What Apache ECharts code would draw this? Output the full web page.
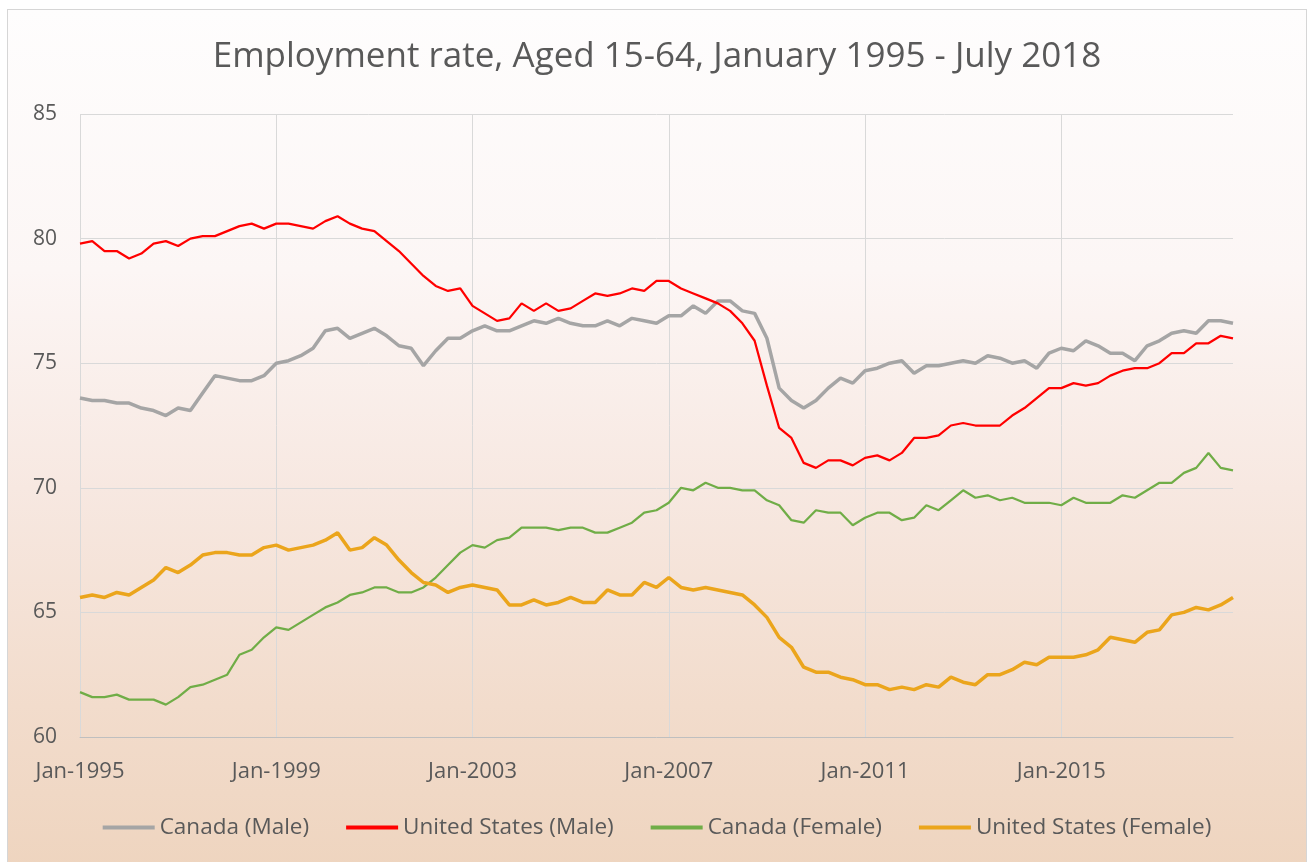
<!DOCTYPE html>
<html lang="en">
<head>
<meta charset="UTF-8">
<title>Employment rate</title>
<script src="https://cdn.jsdelivr.net/npm/echarts@6/dist/echarts.min.js"></script>
<style>
html,body{margin:0;padding:0;background:#fff;overflow:hidden;width:1310px;height:862px;}
#chartBox{position:absolute;left:7px;top:9px;width:1298px;height:870px;border:1px solid #d6d6d6;
  background:linear-gradient(to bottom,#fefdfd 0%,#fcf6f5 30%,#f7e8e1 55%,#f2dccc 80%,#eed4be 100%);}
</style>
</head>
<body>
<div id="chartBox"></div>
<script>
// 月份类目 Jan-1995 .. Jul-2018
const MONTH_NAMES = ['Jan','Feb','Mar','Apr','May','Jun','Jul','Aug','Sep','Oct','Nov','Dec'];
const months = [];
for (let y = 1995; y <= 2018; y++) {
    for (let m = 0; m < 12; m++) {
        if (y === 2018 && m > 6) break;
        months.push(MONTH_NAMES[m] + '-' + y);
    }
}

// 季度读数（每3个月一个点，从 Jan-1995 开始）
const canadaMale = [
    73.6, 73.5, 73.5, 73.4, 73.4, 73.2, 73.1, 72.9, 73.2, 73.1, 73.8, 74.5, 74.4, 74.3, 74.3, 74.5, 75.0, 75.1, 75.3, 75.6, 76.3, 76.4, 76.0, 76.2,
    76.4, 76.1, 75.7, 75.6, 74.9, 75.5, 76.0, 76.0, 76.3, 76.5, 76.3, 76.3, 76.5, 76.7, 76.6, 76.8, 76.6, 76.5, 76.5, 76.7, 76.5, 76.8, 76.7, 76.6,
    76.9, 76.9, 77.3, 77.0, 77.5, 77.5, 77.1, 77.0, 76.0, 74.0, 73.5, 73.2, 73.5, 74.0, 74.4, 74.2, 74.7, 74.8, 75.0, 75.1, 74.6, 74.9, 74.9,
    75.0, 75.1, 75.0, 75.3, 75.2, 75.0, 75.1, 74.8, 75.4, 75.6, 75.5, 75.9, 75.7, 75.4, 75.4, 75.1, 75.7, 75.9, 76.2, 76.3, 76.2, 76.7, 76.7, 76.6
];
const usMale = [
    79.8, 79.9, 79.5, 79.5, 79.2, 79.4, 79.8, 79.9, 79.7, 80.0, 80.1, 80.1, 80.3, 80.5, 80.6, 80.4, 80.6, 80.6, 80.5, 80.4, 80.7, 80.9, 80.6, 80.4,
    80.3, 79.9, 79.5, 79.0, 78.5, 78.1, 77.9, 78.0, 77.3, 77.0, 76.7, 76.8, 77.4, 77.1, 77.4, 77.1, 77.2, 77.5, 77.8, 77.7, 77.8, 78.0, 77.9, 78.3,
    78.3, 78.0, 77.8, 77.6, 77.4, 77.1, 76.6, 75.9, 74.1, 72.4, 72.0, 71.0, 70.8, 71.1, 71.1, 70.9, 71.2, 71.3, 71.1, 71.4, 72.0, 72.0, 72.1,
    72.5, 72.6, 72.5, 72.5, 72.5, 72.9, 73.2, 73.6, 74.0, 74.0, 74.2, 74.1, 74.2, 74.5, 74.7, 74.8, 74.8, 75.0, 75.4, 75.4, 75.8, 75.8, 76.1, 76.0
];
const canadaFemale = [
    61.8, 61.6, 61.6, 61.7, 61.5, 61.5, 61.5, 61.3, 61.6, 62.0, 62.1, 62.3, 62.5, 63.3, 63.5, 64.0, 64.4, 64.3, 64.6, 64.9, 65.2, 65.4, 65.7, 65.8,
    66.0, 66.0, 65.8, 65.8, 66.0, 66.4, 66.9, 67.4, 67.7, 67.6, 67.9, 68.0, 68.4, 68.4, 68.4, 68.3, 68.4, 68.4, 68.2, 68.2, 68.4, 68.6, 69.0, 69.1,
    69.4, 70.0, 69.9, 70.2, 70.0, 70.0, 69.9, 69.9, 69.5, 69.3, 68.7, 68.6, 69.1, 69.0, 69.0, 68.5, 68.8, 69.0, 69.0, 68.7, 68.8, 69.3, 69.1,
    69.5, 69.9, 69.6, 69.7, 69.5, 69.6, 69.4, 69.4, 69.4, 69.3, 69.6, 69.4, 69.4, 69.4, 69.7, 69.6, 69.9, 70.2, 70.2, 70.6, 70.8, 71.4, 70.8, 70.7
];
const usFemale = [
    65.6, 65.7, 65.6, 65.8, 65.7, 66.0, 66.3, 66.8, 66.6, 66.9, 67.3, 67.4, 67.4, 67.3, 67.3, 67.6, 67.7, 67.5, 67.6, 67.7, 67.9, 68.2, 67.5, 67.6,
    68.0, 67.7, 67.1, 66.6, 66.2, 66.1, 65.8, 66.0, 66.1, 66.0, 65.9, 65.3, 65.3, 65.5, 65.3, 65.4, 65.6, 65.4, 65.4, 65.9, 65.7, 65.7, 66.2, 66.0,
    66.4, 66.0, 65.9, 66.0, 65.9, 65.8, 65.7, 65.3, 64.8, 64.0, 63.6, 62.8, 62.6, 62.6, 62.4, 62.3, 62.1, 62.1, 61.9, 62.0, 61.9, 62.1, 62.0,
    62.4, 62.2, 62.1, 62.5, 62.5, 62.7, 63.0, 62.9, 63.2, 63.2, 63.2, 63.3, 63.5, 64.0, 63.9, 63.8, 64.2, 64.3, 64.9, 65.0, 65.2, 65.1, 65.3, 65.6
];

const seriesNames = ['Canada (Male)', 'United States (Male)', 'Canada (Female)', 'United States (Female)'];
const COLORS = ['#a5a5a5', '#ff0000', '#70ad47', '#eba51c'];
const WIDTHS = [3.5, 2.25, 2.25, 3.5];
const FONT = 'Open Sans';

function toPairs(values) {
    return values.map((v, i) => [months[i * 3], v]);
}

// 每4年显示一次标签和竖线
function showEvery4Years(index) {
    return index % 48 === 0;
}

let chartObj = echarts.init(document.getElementById('chartBox'));
let allData = [canadaMale, usMale, canadaFemale, usFemale];

let option = {
    animation: false,
    color: COLORS,
    title: {
        text: 'Employment rate, Aged 15-64, January 1995 - July 2018',
        left: 'center',
        top: 25,
        textStyle: {color: '#595959', fontSize: 35, fontWeight: 'normal', fontFamily: FONT}
    },
    grid: {left: 72, top: 104, width: 1153, height: 623, containLabel: false, outerBoundsMode: 'none'},
    xAxis: {
        type: 'category',
        data: months,
        boundaryGap: false,
        axisLine: {lineStyle: {color: '#bfbfbf', width: 1}},
        axisTick: {show: false},
        axisLabel: {
            interval: showEvery4Years,
            color: '#595959',
            fontSize: 22,
            fontFamily: FONT,
            margin: 24
        },
        splitLine: {show: true, interval: showEvery4Years, lineStyle: {color: '#d9d9d9', width: 1}}
    },
    yAxis: {
        type: 'value',
        min: 60,
        max: 85,
        interval: 5,
        axisLine: {show: false},
        axisTick: {show: false},
        axisLabel: {color: '#595959', fontSize: 21, fontFamily: FONT, margin: 23},
        splitLine: {lineStyle: {color: '#d9d9d9', width: 1}}
    },
    legend: {
        top: 801,
        left: 'center',
        icon: 'rect',
        itemWidth: 52,
        itemHeight: 4,
        itemGap: 37,
        textStyle: {color: '#595959', fontSize: 22.5, fontFamily: FONT},
        data: seriesNames
    },
    series: seriesNames.map((name, k) => ({
        type: 'line',
        name: name,
        symbol: 'none',
        showSymbol: false,
        lineStyle: {width: WIDTHS[k], color: COLORS[k]},
        itemStyle: {color: COLORS[k]},
        data: toPairs(allData[k])
    }))
};
chartObj.setOption(option);
</script>
</body>
</html>
